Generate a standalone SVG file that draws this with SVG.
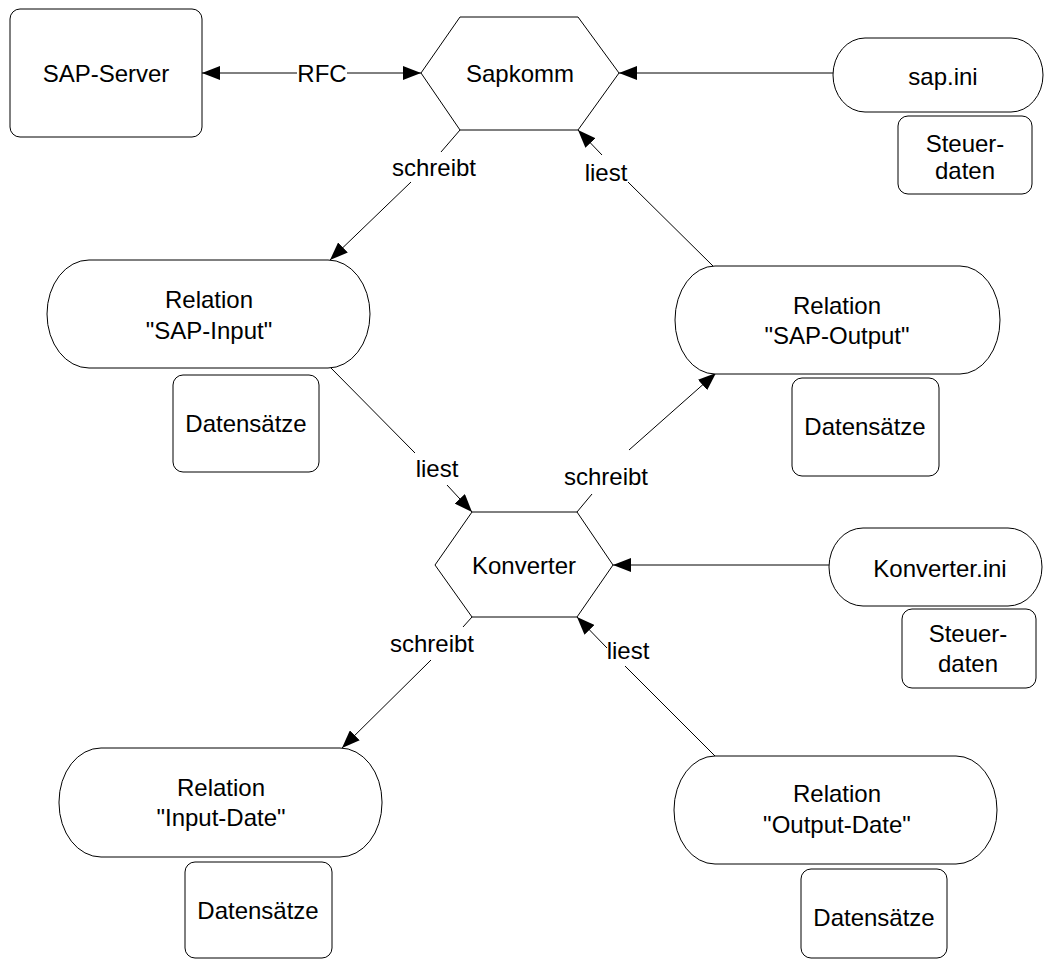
<svg xmlns="http://www.w3.org/2000/svg" width="1044" height="959" viewBox="0 0 1044 959">
<style>
.s{fill:#fff;stroke:#000;stroke-width:1}
.c{fill:none;stroke:#000;stroke-width:1}
text{font-family:"Liberation Sans",Arial,sans-serif;font-size:24px;fill:#000;text-anchor:middle}
</style>
<defs>
<marker id="a" markerUnits="userSpaceOnUse" markerWidth="18" markerHeight="14" refX="18" refY="7" orient="auto-start-reverse" viewBox="0 0 18 14">
<path d="M0,0 L18,7 L0,14 z" fill="#000"/>
</marker>
</defs>
<rect width="1044" height="959" fill="#fff"/>
<g id="connectors">
<line class="c" x1="202" y1="73" x2="297" y2="73" marker-start="url(#a)"/>
<line class="c" x1="347" y1="73" x2="421" y2="73" marker-end="url(#a)"/>
<text x="322" y="81.5">RFC</text>
<line class="c" x1="833" y1="73" x2="619" y2="73" marker-end="url(#a)"/>
<line class="c" x1="460" y1="130" x2="441" y2="152"/>
<line class="c" x1="411" y1="182" x2="330" y2="260" marker-end="url(#a)"/>
<text x="434" y="175.5">schreibt</text>
<line class="c" x1="713" y1="266" x2="628" y2="182"/>
<line class="c" x1="602" y1="155" x2="578" y2="130" marker-end="url(#a)"/>
<text x="606" y="180.5">liest</text>
<line class="c" x1="330" y1="367" x2="415" y2="453"/>
<line class="c" x1="447" y1="485" x2="472" y2="512" marker-end="url(#a)"/>
<text x="437" y="476.5">liest</text>
<line class="c" x1="577" y1="512" x2="592" y2="494"/>
<line class="c" x1="629" y1="450" x2="716" y2="373" marker-end="url(#a)"/>
<text x="606" y="484.5">schreibt</text>
<line class="c" x1="829" y1="565" x2="613" y2="565" marker-end="url(#a)"/>
<line class="c" x1="472" y1="617" x2="463" y2="627"/>
<line class="c" x1="431" y1="660" x2="342" y2="748" marker-end="url(#a)"/>
<text x="432" y="651.5">schreibt</text>
<line class="c" x1="715" y1="756" x2="625" y2="666"/>
<line class="c" x1="607" y1="648" x2="577" y2="617" marker-end="url(#a)"/>
<text x="628" y="658.5">liest</text>
</g>
<g id="sap-server">
<rect class="s" x="10" y="9" width="192" height="128" rx="10"/>
<text x="106" y="81.5">SAP-Server</text>
</g>
<g id="sapkomm">
<polygon class="s" points="421,73 460,17 578,17 619,73 578,130 460,130"/>
<text x="520" y="81.5">Sapkomm</text>
</g>
<g id="sap-ini">
<rect class="s" x="833" y="38" width="210" height="74" rx="32" ry="37"/>
<text x="943" y="84.5">sap.ini</text>
</g>
<g id="steuerdaten-1">
<rect class="s" x="898" y="116" width="134" height="78" rx="10"/>
<text x="965" y="151.5">Steuer-</text>
<text x="965" y="178.5">daten</text>
</g>
<g id="sap-input">
<rect class="s" x="47" y="260" width="323" height="108" rx="42" ry="54"/>
<text x="209" y="307.5">Relation</text>
<text x="209" y="338.5">"SAP-Input"</text>
</g>
<g id="datensaetze-1">
<rect class="s" x="173" y="375" width="146" height="97" rx="10"/>
<text x="246" y="431.5">Datensätze</text>
</g>
<g id="sap-output">
<rect class="s" x="675" y="266" width="325" height="108" rx="40" ry="54"/>
<text x="837" y="313.5">Relation</text>
<text x="837" y="343.5">"SAP-Output"</text>
</g>
<g id="datensaetze-2">
<rect class="s" x="792" y="378" width="147" height="98" rx="10"/>
<text x="865" y="434.5">Datensätze</text>
</g>
<g id="konverter">
<polygon class="s" points="435,565 472,512 577,512 613,565 577,617 472,617"/>
<text x="524" y="573.5">Konverter</text>
</g>
<g id="konverter-ini">
<rect class="s" x="829" y="528" width="213" height="78" rx="34" ry="39"/>
<text x="940" y="576.5">Konverter.ini</text>
</g>
<g id="steuerdaten-2">
<rect class="s" x="902" y="609" width="134" height="79" rx="10"/>
<text x="968" y="641.5">Steuer-</text>
<text x="968" y="671.5">daten</text>
</g>
<g id="input-date">
<rect class="s" x="59" y="748" width="323" height="109" rx="42" ry="54"/>
<text x="221" y="795.5">Relation</text>
<text x="221" y="825.5">"Input-Date"</text>
</g>
<g id="datensaetze-3">
<rect class="s" x="185" y="862" width="147" height="96" rx="10"/>
<text x="258" y="918.5">Datensätze</text>
</g>
<g id="output-date">
<rect class="s" x="674" y="756" width="323" height="108" rx="41" ry="54"/>
<text x="837" y="801.5">Relation</text>
<text x="837" y="832.5">"Output-Date"</text>
</g>
<g id="datensaetze-4">
<rect class="s" x="801" y="869" width="146" height="89" rx="10"/>
<text x="874" y="925.5">Datensätze</text>
</g>
</svg>
